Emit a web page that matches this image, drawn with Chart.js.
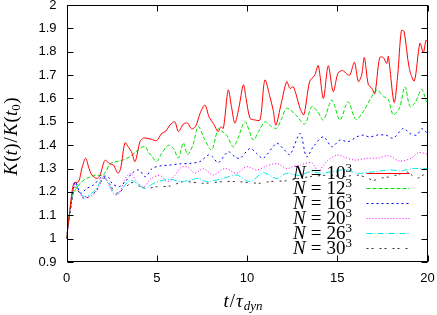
<!DOCTYPE html>
<html><head><meta charset="utf-8">
<script src="https://cdn.jsdelivr.net/npm/chart.js@4"></script>
<style>html,body{margin:0;padding:0;background:#fff}#wrap{width:437px;height:315px}</style>
</head><body><div id="wrap"><canvas id="c" width="437" height="315"></canvas></div>
<script>
// ---- data ----
const seriesN = ['10', '12', '16', '20', '26', '30'];

const t10 = [0,0.2,0.4,0.67,0.85,1.06,1.25,1.41,1.67,1.85,2.13,2.4,2.6,2.85,3.0,3.24,3.45,3.6,3.8,4.07,4.25,4.44,4.7,5.0,5.27,5.5,5.73,6.0,6.2,6.47,6.7,6.93,7.15,7.4,7.67,7.9,8.13,8.4,8.55,8.69,8.96,9.15,9.33,9.55,9.8,9.95,10.17,10.44,10.72,10.99,11.27,11.45,11.6,11.9,12.2,12.38,12.57,12.94,13.15,13.47,13.75,13.95,14.23,14.5,14.78,15.04,15.3,15.52,15.7,15.95,16.17,16.35,16.5,16.72,16.92,17.08,17.35,17.55,17.74,17.83,18.15,18.35,18.55,18.7,18.99,19.27,19.58,19.77,19.92,20];
const k10 = [1.00,1.13,1.237,1.244,1.30,1.344,1.30,1.272,1.258,1.27,1.335,1.32,1.315,1.28,1.30,1.41,1.39,1.372,1.33,1.415,1.43,1.43,1.425,1.42,1.45,1.46,1.486,1.50,1.458,1.49,1.495,1.47,1.48,1.536,1.572,1.52,1.494,1.458,1.479,1.472,1.636,1.56,1.494,1.56,1.658,1.60,1.515,1.508,1.508,1.679,1.607,1.55,1.486,1.58,1.672,1.643,1.65,1.558,1.53,1.672,1.70,1.74,1.60,1.74,1.629,1.708,1.72,1.705,1.70,1.755,1.672,1.70,1.775,1.66,1.643,1.62,1.775,1.775,1.75,1.78,1.583,1.70,1.89,1.888,1.729,1.675,1.836,1.797,1.85,1.84];

const t12 = [0,0.15,0.3,0.5,0.8,1.13,1.6,2.0,2.2,2.43,2.8,3.1,3.5,3.98,4.35,4.53,4.75,5.0,5.27,5.64,5.92,6.2,6.47,6.7,7.0,7.3,7.67,8.04,8.4,8.6,8.87,9.24,9.5,9.89,10.35,10.65,11.0,11.35,11.64,11.9,12.2,12.7,13.2,13.58,13.9,14.23,14.7,15.15,15.6,16.03,16.45,16.85,17.2,17.55,17.83,18.1,18.45,18.75,19.03,19.3,19.68,19.95,20];
const k12 = [1.00,1.10,1.18,1.21,1.24,1.258,1.272,1.27,1.29,1.322,1.33,1.336,1.35,1.38,1.395,1.372,1.35,1.33,1.365,1.40,1.386,1.345,1.41,1.36,1.40,1.479,1.422,1.379,1.47,1.46,1.443,1.393,1.43,1.50,1.422,1.46,1.50,1.48,1.472,1.51,1.558,1.53,1.49,1.565,1.545,1.508,1.593,1.508,1.586,1.51,1.545,1.60,1.636,1.61,1.595,1.53,1.56,1.65,1.565,1.58,1.639,1.586,1.59];

const t16 = [0,0.2,0.49,0.77,1.13,1.5,1.97,2.3,2.52,2.89,3.26,3.63,4.0,4.37,4.74,5.18,5.73,6.29,6.84,7.4,7.86,8.1,8.4,8.96,9.33,9.61,10.17,10.53,10.9,11.64,12.0,12.38,12.94,13.3,13.67,14.23,14.7,15.15,15.6,16.08,16.44,16.8,17.2,17.7,18.1,18.66,19.03,19.4,19.68,19.95,20];
const k16 = [1.00,1.12,1.244,1.194,1.215,1.23,1.265,1.265,1.237,1.222,1.244,1.28,1.294,1.265,1.30,1.311,1.315,1.32,1.322,1.33,1.358,1.35,1.325,1.372,1.35,1.344,1.386,1.365,1.344,1.408,1.386,1.36,1.45,1.35,1.393,1.436,1.393,1.422,1.415,1.436,1.443,1.435,1.443,1.443,1.43,1.472,1.45,1.443,1.47,1.455,1.455];

const t20 = [0,0.2,0.49,0.86,1.2,1.5,1.78,2.06,2.3,2.6,2.89,3.26,3.54,3.9,4.28,4.65,5.18,5.6,6.0,6.35,6.66,7.12,7.58,8.13,8.78,9.43,9.98,10.53,11.0,11.64,12.2,12.6,12.94,13.58,13.95,14.41,15.0,15.43,15.98,16.63,17.27,17.83,18.48,19.12,19.49,19.86,20];
const k20 = [1.00,1.12,1.237,1.18,1.178,1.19,1.222,1.265,1.237,1.194,1.19,1.258,1.28,1.244,1.222,1.255,1.27,1.245,1.27,1.305,1.308,1.28,1.30,1.272,1.30,1.28,1.308,1.294,1.308,1.322,1.30,1.31,1.315,1.325,1.29,1.33,1.358,1.348,1.336,1.344,1.345,1.355,1.332,1.345,1.368,1.365,1.36];

const t26 = [0,0.2,0.49,0.95,1.6,2.06,2.43,2.71,3.1,3.54,4.0,4.37,4.9,5.73,6.3,6.84,7.3,7.77,8.69,9.43,10.17,10.9,11.64,12.2,12.9,13.49,14.2,14.78,15.5,16.08,16.9,17.92,18.5,19.2,19.95,20];
const k26 = [1.00,1.12,1.23,1.18,1.208,1.265,1.222,1.187,1.215,1.25,1.23,1.215,1.24,1.254,1.244,1.25,1.258,1.244,1.258,1.272,1.244,1.282,1.258,1.28,1.27,1.286,1.28,1.288,1.295,1.28,1.285,1.294,1.29,1.30,1.30,1.30];

const t30 = [0,0.2,0.49,0.95,1.6,2.06,2.43,2.71,3.2,3.63,4.1,4.46,5.0,5.73,6.47,7.58,8.69,9.43,10.72,11.27,12.2,12.9,13.49,14.6,15.3,16.08,16.6,17.0,17.5,17.92,18.4,18.85,19.4,19.7,20];
const k30 = [1.00,1.11,1.22,1.172,1.20,1.258,1.23,1.194,1.215,1.24,1.222,1.215,1.222,1.225,1.244,1.237,1.244,1.244,1.237,1.244,1.248,1.258,1.265,1.272,1.265,1.272,1.262,1.25,1.26,1.265,1.275,1.286,1.258,1.27,1.28];

const xTicks = [0, 5, 10, 15, 20];
const xTickLabels = ['0', '5', '10', '15', '20'];
const yTicks = [0.9, 1.0, 1.1, 1.2, 1.3, 1.4, 1.5, 1.6, 1.7, 1.8, 1.9, 2.0];
const yTickLabels = ['0.9', '1', '1.1', '1.2', '1.3', '1.4', '1.5', '1.6', '1.7', '1.8', '1.9', '2'];

// ---- styles ----
const times = [t10, t12, t16, t20, t26, t30];
const values = [k10, k12, k16, k20, k26, k30];
const colors = ['#ff0000', '#00e000', '#0000ff', '#ff00ff', '#00e8e8', '#333333'];
const dashes = [[], [4, 2], [2, 3], [1, 2], [6, 2, 1, 2], [2, 3, 2, 6]];

const datasets = seriesN.map((n, i) => ({
  label: 'N = ' + n + '^3',
  data: times[i].map((t, j) => ({x: t, y: values[i][j]})),
  borderColor: colors[i],
  borderDash: dashes[i],
  borderWidth: 1,
  pointRadius: 0,
  showLine: true,
  fill: false,
  tension: 0.3
}));

const SERIF = '"Liberation Serif", "DejaVu Serif", serif';
function drawRich(ctx, segs, x, y, align) {
  let w = 0;
  segs.forEach(s => { ctx.font = s.f; s.w = ctx.measureText(s.t).width + (s.sp || 0); w += s.w; });
  let cx = align === 'right' ? x - w : (align === 'center' ? x - w / 2 : x);
  segs.forEach(s => { ctx.font = s.f; ctx.fillText(s.t, cx, y + (s.dy || 0)); cx += s.w; });
}
const fI = 'italic 19px ' + SERIF, fN = '19px ' + SERIF, fSI = 'italic 13px ' + SERIF, fSN = '13px ' + SERIF;

const decor = {
  id: 'decor',
  afterDatasetsDraw(chart) {
    const {ctx, chartArea: a, scales: {x, y}} = chart;
    const L = Math.round(a.left) + 0.5, R = Math.round(a.right) - 0.5;
    const T = Math.round(a.top) + 0.5, B = Math.round(a.bottom) - 0.5;
    ctx.save();
    ctx.strokeStyle = '#000'; ctx.lineWidth = 1; ctx.setLineDash([]);
    ctx.strokeRect(L, T, R - L, B - T);
    ctx.beginPath();
    const tl = 6;
    xTicks.forEach(v => { const p = Math.round(x.getPixelForValue(v)) + 0.5;
      ctx.moveTo(p, B); ctx.lineTo(p, B - tl); ctx.moveTo(p, T); ctx.lineTo(p, T + tl); });
    yTicks.forEach(v => { const p = Math.round(y.getPixelForValue(v)) + 0.5;
      ctx.moveTo(L, p); ctx.lineTo(L + tl, p); ctx.moveTo(R, p); ctx.lineTo(R - tl, p); });
    ctx.stroke();

    // legend
    ctx.fillStyle = '#000';
    ctx.textBaseline = 'alphabetic';
    seriesN.forEach((n, i) => {
      const yc = a.bottom - 89 + 15 * i;
      drawRich(ctx, [
        {t: 'N', f: fI, sp: 5},
        {t: '=', f: fN, sp: 5},
        {t: n, f: fN},
        {t: '3', f: fSN, dy: -7}
      ], a.right - 75.5, yc + 6, 'right');
      ctx.save();
      ctx.strokeStyle = colors[i]; ctx.setLineDash(dashes[i]); ctx.lineWidth = 1;
      ctx.beginPath(); ctx.moveTo(a.right - 61, Math.round(yc) + 0.5); ctx.lineTo(a.right - 18, Math.round(yc) + 0.5); ctx.stroke();
      ctx.restore();
    });

    // x title
    drawRich(ctx, [
      {t: 't', f: fI, sp: 1},
      {t: '/', f: fN, sp: 1},
      {t: 'τ', f: fI, sp: 1},
      {t: 'dyn', f: fSI, dy: 3}
    ], (a.left + a.right) / 2 - 4, 307, 'center');

    // y title
    ctx.translate(17, (a.top + a.bottom) / 2 + 3);
    ctx.rotate(-Math.PI / 2);
    drawRich(ctx, [
      {t: 'K', f: fI, sp: 1},
      {t: '(', f: fN},
      {t: 't', f: fI, sp: 0.5},
      {t: ')', f: fN, sp: 1},
      {t: '/', f: fN, sp: 1},
      {t: 'K', f: fI, sp: 1},
      {t: '(', f: fN},
      {t: 't', f: fI},
      {t: '0', f: fSN, dy: 3, sp: 0.5},
      {t: ')', f: fN}
    ], 0, 0, 'center');
    ctx.restore();
  }
};

new Chart(document.getElementById('c'), {
  type: 'scatter',
  data: {datasets},
  options: {
    responsive: false,
    animation: false,
    devicePixelRatio: 1,
    layout: {padding: {left: 0, right: 9.5, top: 5, bottom: 0}},
    plugins: {legend: {display: false}, tooltip: {enabled: false}},
    scales: {
      x: {
        type: 'linear', min: 0, max: 20,
        afterBuildTicks: s => { s.ticks = xTicks.map(v => ({value: v})); },
        afterFit: s => { s.height = 53; s.paddingLeft = 0; s.paddingRight = 0; },
        grid: {display: false, drawTicks: false},
        border: {display: false},
        ticks: {
          callback: (v) => xTickLabels[xTicks.indexOf(v)],
          font: {family: '"Liberation Sans", Arial, sans-serif', size: 13},
          color: '#000', padding: 9, maxRotation: 0, autoSkip: false
        }
      },
      y: {
        type: 'linear', min: 0.9, max: 2.0,
        afterBuildTicks: s => { s.ticks = yTicks.map(v => ({value: v})); },
        afterFit: s => { s.width = 66.5; s.paddingTop = 0; s.paddingBottom = 0; },
        grid: {display: false, drawTicks: false},
        border: {display: false},
        ticks: {
          callback: (v) => { const i = yTicks.findIndex(t => Math.abs(t - v) < 1e-6); return yTickLabels[i]; },
          font: {family: '"Liberation Sans", Arial, sans-serif', size: 13},
          color: '#000', padding: 10, autoSkip: false
        }
      }
    }
  },
  plugins: [decor]
});
</script>
</body></html>
